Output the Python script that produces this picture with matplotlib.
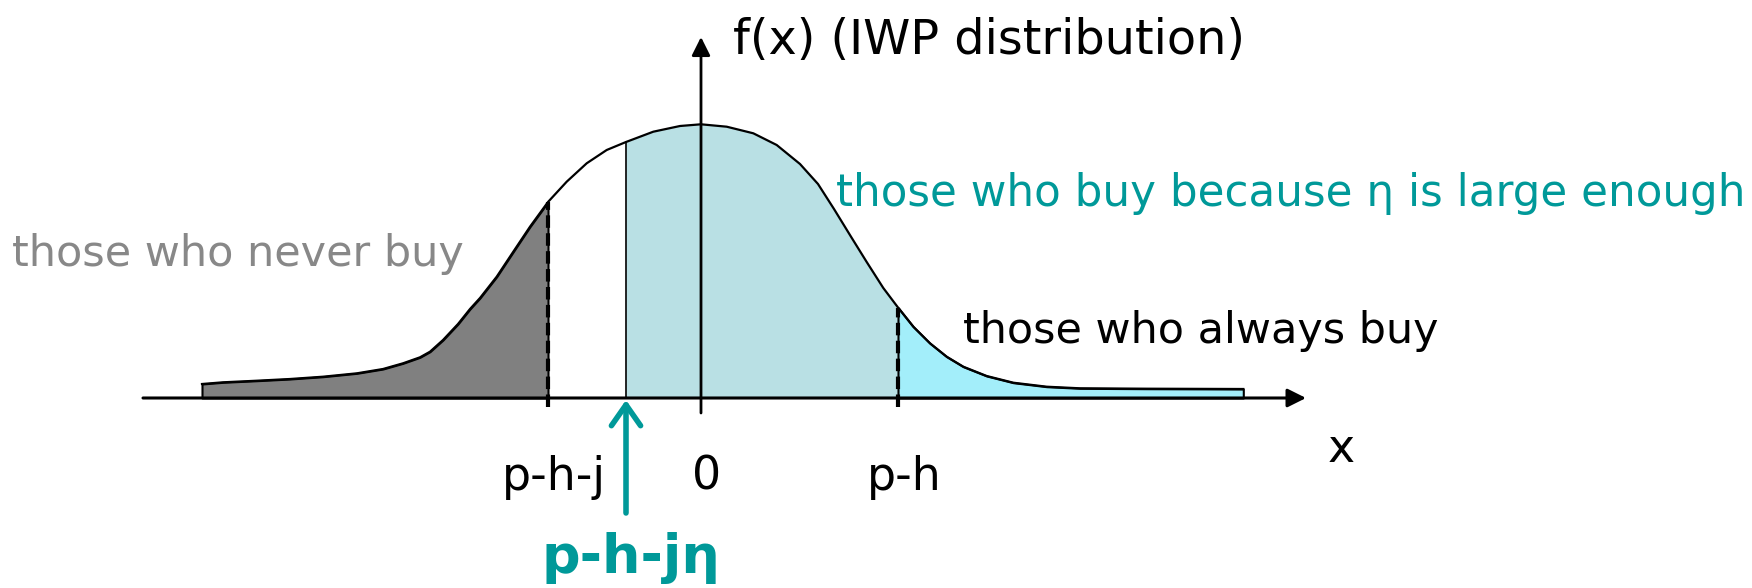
import matplotlib.pyplot as plt
import numpy as np

# Curve: x position (0 = vertical axis) and height f(x)
curve_x = [-4.99, -4.78, -4.44, -4.11, -3.78, -3.44, -3.18, -2.98, -2.81, -2.71,
           -2.58, -2.43, -2.31, -2.21, -2.043, -1.877, -1.71, -1.53, -1.343, -1.143,
           -0.943, -0.75, -0.477, -0.21, 0.00, 0.257, 0.523, 0.757, 0.99, 1.17,
           1.33, 1.50, 1.657, 1.823, 1.97, 2.123, 2.29, 2.457, 2.623, 2.857,
           3.123, 3.457, 3.79, 4.457, 5.423]
curve_f = [0.14, 0.157, 0.173, 0.19, 0.213, 0.247, 0.29, 0.347, 0.407, 0.463,
           0.58, 0.74, 0.89, 1.00, 1.213, 1.463, 1.713, 1.96, 2.163, 2.347,
           2.48, 2.56, 2.663, 2.72, 2.737, 2.713, 2.647, 2.53, 2.34, 2.14,
           1.89, 1.613, 1.36, 1.10, 0.905, 0.713, 0.547, 0.413, 0.313, 0.22,
           0.153, 0.113, 0.097, 0.093, 0.09]

# Cut-off points on the x axis
cut_never = -1.53      # p-h-j
cut_eta = -0.75        # p-h-j*eta
cut_always = 1.97      # p-h

tick_pos = [cut_never, 0.0, cut_always]
tick_labels = ['p-h-j', '0', 'p-h']

teal = '#009999'
gray_fill = '#808080'
light_teal = '#b9e0e4'
cyan = '#a3eefa'

x = np.array(curve_x)
f = np.array(curve_f)

fig = plt.figure(figsize=(17.52, 5.88), dpi=100)
ax = fig.add_axes([0, 0, 1, 1])
ax.set_xlim(-7.01, 10.51)
ax.set_ylim(-1.90, 3.98)
ax.axis('off')

# shaded regions
ax.fill_between(x, 0, f, where=x <= cut_never, color=gray_fill,
                edgecolor='black', lw=1.5, zorder=2)
ax.fill_between(x, 0, f, where=(x >= cut_eta) & (x <= cut_always),
                color=light_teal, lw=0, zorder=2)
ax.fill_between(x, 0, f, where=x >= cut_always, color=cyan,
                edgecolor='black', lw=1.5, zorder=2)

# the density curve
ax.plot(x, f, color='black', lw=1.6, zorder=4, solid_joinstyle='round')

# vertical markers
f_never = f[list(x).index(cut_never)]
f_eta = f[list(x).index(cut_eta)]
f_always = f[list(x).index(cut_always)]
ax.plot([cut_never, cut_never], [-0.09, f_never], color='black', lw=3,
        ls=(0, (3, 1.3)), zorder=5)
ax.plot([cut_always, cut_always], [-0.09, f_always], color='black', lw=3,
        ls=(0, (3, 1.3)), zorder=5)
ax.plot([cut_eta, cut_eta], [0, f_eta], color='black', lw=1.2, zorder=5)

# axes with arrows
ax.annotate('', xy=(6.05, 0), xytext=(-5.58, 0),
            arrowprops=dict(arrowstyle='-|>', mutation_scale=28, lw=2.2,
                            color='black', shrinkA=0, shrinkB=0), zorder=6)
ax.annotate('', xy=(0, 3.61), xytext=(0, -0.15),
            arrowprops=dict(arrowstyle='-|>', mutation_scale=28, lw=2,
                            color='black', shrinkA=0, shrinkB=0), zorder=6)

# teal arrow pointing at p-h-j*eta
ax.annotate('', xy=(cut_eta, -0.02), xytext=(cut_eta, -1.15),
            arrowprops=dict(arrowstyle='->,head_length=0.5,head_width=0.35',
                            mutation_scale=30, lw=4, color=teal,
                            shrinkA=0, shrinkB=0), zorder=6)

# labels
ax.text(0.32, 3.57, 'f(x) (IWP distribution)', fontsize=34.4, va='center', ha='left')
ax.text(1.35, 2.05, 'those who buy because η is large enough', fontsize=31.4,
        color=teal, va='center', ha='left')
ax.text(-6.89, 1.44, 'those who never buy', fontsize=31, color='#888888',
        va='center', ha='left')
ax.text(2.62, 0.67, 'those who always buy', fontsize=30.9, color='black',
        va='center', ha='left')

for pos, lab in zip(tick_pos, tick_labels):
    ax.text(pos + 0.06, -0.79, lab, fontsize=33, ha='center', va='center')
ax.text(6.40, -0.52, 'x', fontsize=33, ha='center', va='center')
ax.text(cut_eta + 0.05, -1.60, 'p-h-jη', fontsize=39, fontweight='bold',
        color=teal, ha='center', va='center')

plt.savefig('out.png', dpi=100)
plt.close()
